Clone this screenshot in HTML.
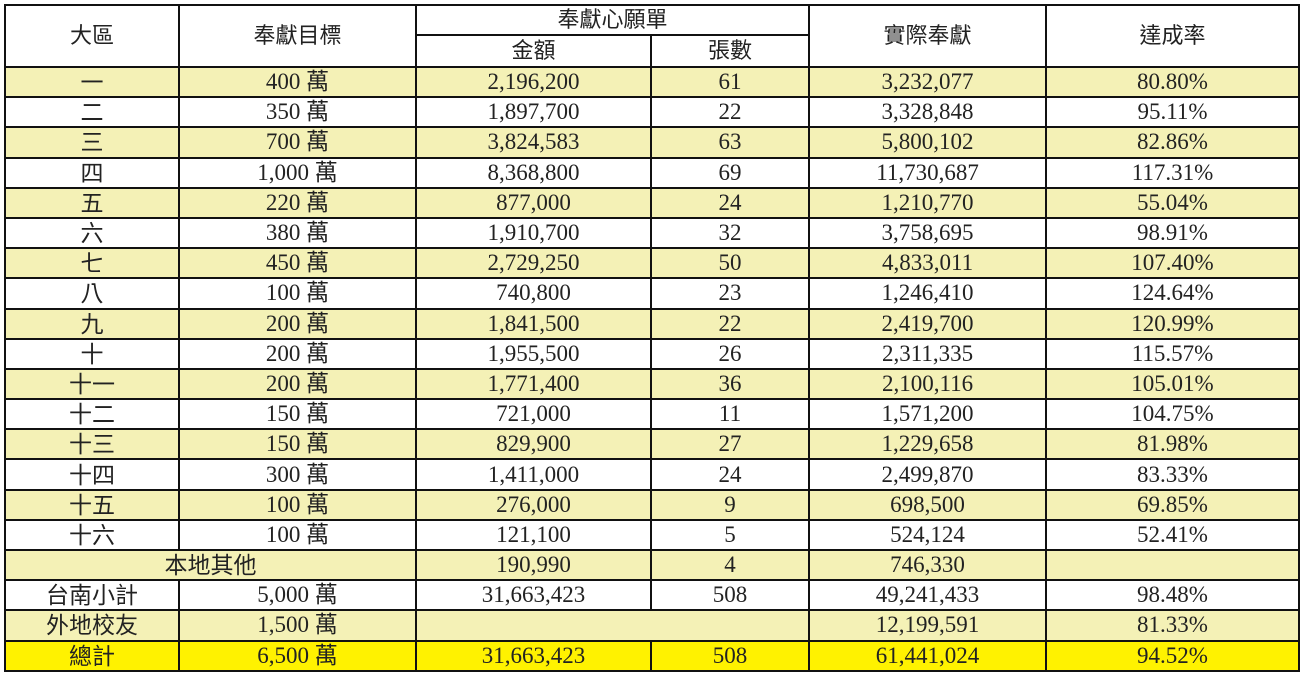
<!DOCTYPE html>
<html><head><meta charset="utf-8"><style>
body{margin:0;background:#fff;width:1303px;height:678px;overflow:hidden}
table{position:absolute;left:4px;top:4px;border-collapse:collapse;table-layout:fixed;width:1294px}
td{border:2px solid #111;padding:0;text-align:center;font-family:"Liberation Serif","Noto Sans CJK TC",serif;font-size:23px;color:#222;height:28.2px;line-height:28px;overflow:hidden;white-space:nowrap}
.h{font-family:"Liberation Sans","Noto Sans CJK TC",sans-serif;font-size:22px;background:#fff}
.c{font-family:"Liberation Sans","Noto Sans CJK TC",sans-serif}
tr.y td{background:#f4f1b6}
tr.t td{background:#fff200}
</style></head><body>
<table>
<colgroup><col style="width:174px"><col style="width:237px"><col style="width:235px"><col style="width:158px"><col style="width:237px"><col style="width:253px"></colgroup>
<tr><td class="h" rowspan="2">大區</td><td class="h" rowspan="2">奉獻目標</td><td class="h" colspan="2" style="height:28px;line-height:26px">奉獻心願單</td><td class="h" rowspan="2">實際奉獻</td><td class="h" rowspan="2">達成率</td></tr>
<tr><td class="h" style="height:27px;line-height:30px">金額</td><td class="h" style="height:27px;line-height:30px">張數</td></tr>
<tbody id="b"></tbody>
</table>
<script>
const regions=["一","二","三","四","五","六","七","八","九","十","十一","十二","十三","十四","十五","十六"];
const targets=["400 萬","350 萬","700 萬","1,000 萬","220 萬","380 萬","450 萬","100 萬","200 萬","200 萬","200 萬","150 萬","150 萬","300 萬","100 萬","100 萬"];
const amounts=["2,196,200","1,897,700","3,824,583","8,368,800","877,000","1,910,700","2,729,250","740,800","1,841,500","1,955,500","1,771,400","721,000","829,900","1,411,000","276,000","121,100"];
const counts=["61","22","63","69","24","32","50","23","22","26","36","11","27","24","9","5"];
const actuals=["3,232,077","3,328,848","5,800,102","11,730,687","1,210,770","3,758,695","4,833,011","1,246,410","2,419,700","2,311,335","2,100,116","1,571,200","1,229,658","2,499,870","698,500","524,124"];
const rates=["80.80%","95.11%","82.86%","117.31%","55.04%","98.91%","107.40%","124.64%","120.99%","115.57%","105.01%","104.75%","81.98%","83.33%","69.85%","52.41%"];
const b=document.getElementById('b');
function cell(tr,txt,name,cls,span){const td=document.createElement('td');td.textContent=txt;if(cls)td.className=cls;if(span)td.colSpan=span;


tr.appendChild(td);}
function row(cls,name){const tr=document.createElement('tr');if(cls)tr.className=cls;


b.appendChild(tr);return tr;}
regions.forEach((r,i)=>{const tr=row(i%2==0?'y':'','region-row');
cell(tr,r,'region-name','c');cell(tr,targets[i],'target');cell(tr,amounts[i],'wish-amount');cell(tr,counts[i],'wish-count');cell(tr,actuals[i],'actual-amount');cell(tr,rates[i],'achievement-rate');});
let tr=row('y','local-other-row');cell(tr,'本地其他','local-other-label','c',2);cell(tr,'190,990','wish-amount');cell(tr,'4','wish-count');cell(tr,'746,330','actual-amount');cell(tr,'','achievement-rate');
tr=row('','tainan-subtotal-row');cell(tr,'台南小計','subtotal-label','c');cell(tr,'5,000 萬','target');cell(tr,'31,663,423','wish-amount');cell(tr,'508','wish-count');cell(tr,'49,241,433','actual-amount');cell(tr,'98.48%','achievement-rate');
tr=row('y','outside-alumni-row');cell(tr,'外地校友','alumni-label','c');cell(tr,'1,500 萬','target');cell(tr,'','wish-blank','',2);cell(tr,'12,199,591','actual-amount');cell(tr,'81.33%','achievement-rate');
tr=row('t','grand-total-row');cell(tr,'總計','total-label','c');cell(tr,'6,500 萬','target');cell(tr,'31,663,423','wish-amount');cell(tr,'508','wish-count');cell(tr,'61,441,024','actual-amount');cell(tr,'94.52%','achievement-rate');
</script>
</body></html>
